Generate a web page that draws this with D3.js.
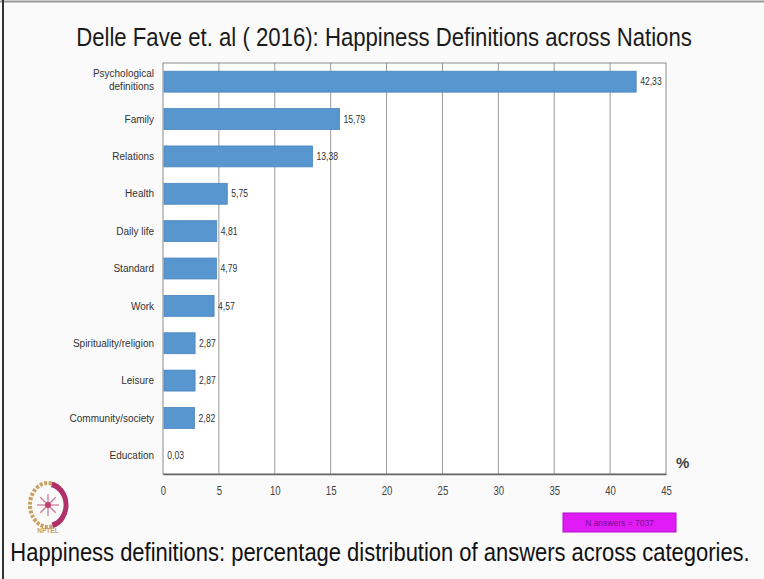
<!DOCTYPE html>
<html>
<head>
<meta charset="utf-8">
<script src="https://cdn.jsdelivr.net/npm/d3@7"></script>
<style>
  body { margin: 0; background: #fff; }
  svg { display: block; }
  text { font-family: "Liberation Sans", Arial, sans-serif; }
</style>
</head>
<body>
<script>
var w = 764;
var h = 579;

var categories = ["Psychological definitions", "Family", "Relations", "Health", "Daily life",
  "Standard", "Work", "Spirituality/religion", "Leisure", "Community/society", "Education"];
var values = [42.33, 15.79, 13.38, 5.75, 4.81, 4.79, 4.57, 2.87, 2.87, 2.82, 0.03];
var valueLabels = ["42,33", "15,79", "13,38", "5,75", "4,81", "4,79", "4,57", "2,87", "2,87", "2,82", "0,03"];
var xTicks = [0, 5, 10, 15, 20, 25, 30, 35, 40, 45];

var svg = d3.select("body").append("svg")
    .attr("width", w)
    .attr("height", h);

// squeeze a text horizontally (no narrow font installed)
function squeeze(sel, sx) {
  sel.each(function() {
    var t = d3.select(this);
    var px = +t.attr("x") || 0, py = +t.attr("y") || 0;
    t.attr("transform", "translate(" + px + "," + py + ") scale(" + sx + ",1) translate(" + (-px) + "," + (-py) + ")");
  });
}
// fit a centred text to a target width
function fitWidth(sel, target) {
  var len = sel.node().getComputedTextLength();
  squeeze(sel, target / len);
}

// slide background + frame
svg.append("rect").attr("width", w).attr("height", h).style("fill", "#fafafa");
svg.append("line").attr("x1", 0).attr("x2", w).attr("y1", 1.5).attr("y2", 1.5)
    .style("stroke", "#9a9a9a").style("stroke-width", 2);
svg.append("line").attr("x1", 3).attr("x2", 3).attr("y1", 0).attr("y2", h)
    .style("stroke", "#333").style("stroke-width", 2);

// title
var title = svg.append("text")
    .attr("x", 384).attr("y", 46)
    .attr("text-anchor", "middle")
    .style("font-size", "25px").style("fill", "#1a1a1a")
    .text("Delle Fave et. al ( 2016): Happiness Definitions across Nations");
fitWidth(title, 616);

var plot = {left: 163, right: 666, top: 63, bottom: 474};

var x = d3.scaleLinear().domain([0, 45]).range([plot.left, plot.right]);
var y = d3.scaleBand().domain(categories).range([plot.top, plot.bottom]).paddingInner(0.44).paddingOuter(0.22);

// plot area
svg.append("rect")
    .attr("x", plot.left).attr("y", plot.top)
    .attr("width", plot.right - plot.left).attr("height", plot.bottom - plot.top)
    .style("fill", "#fff").style("stroke", "#8a8a8a").style("stroke-width", 1);

// vertical grid
svg.selectAll(".grid")
    .data(xTicks.slice(1, -1))
    .enter().append("line")
    .attr("class", "grid")
    .attr("x1", function(d) { return x(d); })
    .attr("x2", function(d) { return x(d); })
    .attr("y1", plot.top).attr("y2", plot.bottom)
    .style("stroke", "#9a9a9a").style("stroke-width", 1);

// x axis
var xAxis = svg.append("g")
    .attr("transform", "translate(0," + plot.bottom + ")")
    .call(d3.axisBottom(x).tickValues(xTicks).tickSize(0).tickPadding(12));
xAxis.select(".domain").style("stroke", "#666").style("stroke-width", 1.5);
xAxis.selectAll("text")
    .style("font-size", "12px").style("fill", "#444")
    .style("font-family", "'Liberation Sans', Arial, sans-serif")
    .attr("transform", "scale(0.8,1)");

// y axis labels
var yAxis = svg.append("g")
    .attr("transform", "translate(" + plot.left + ",0)")
    .call(d3.axisLeft(y).tickSize(0).tickPadding(9));
yAxis.select(".domain").remove();
yAxis.selectAll("text")
    .style("font-size", "11.5px").style("fill", "#333")
    .each(function(d) {
      if (d === "Psychological definitions") {
        var t = d3.select(this);
        t.text(null);
        t.append("tspan").attr("x", -9).attr("dy", "-0.45em").text("Psychological");
        t.append("tspan").attr("x", -9).attr("dy", "1.15em").text("definitions");
      }
    });
yAxis.selectAll(".tick text").attr("transform", "translate(-9,0) scale(0.87,1) translate(9,0)");

// bars
svg.selectAll(".bar")
    .data(values)
    .enter().append("rect")
    .attr("class", "bar")
    .attr("x", x(0) + 1)
    .attr("y", function(d, i) { return y(categories[i]); })
    .attr("width", function(d) { return Math.max(0, x(d) - x(0) - 1); })
    .attr("height", y.bandwidth())
    .style("fill", "#5896d0")
    .style("stroke", "#4a84bd").style("stroke-width", 0.8);

// value labels
svg.selectAll(".val")
    .data(values)
    .enter().append("text")
    .attr("class", "val")
    .attr("x", function(d) { return x(d) + 4; })
    .attr("y", function(d, i) { return y(categories[i]) + y.bandwidth() / 2; })
    .attr("dy", "0.35em")
    .style("font-size", "10.5px").style("fill", "#333")
    .text(function(d, i) { return valueLabels[i]; })
    .call(squeeze, 0.82);

// % unit
svg.append("text")
    .attr("x", 676).attr("y", 468)
    .style("font-size", "15px").style("fill", "#444")
    .style("font-weight", "bold")
    .text("%");

// N answers box
svg.append("rect")
    .attr("x", 563).attr("y", 513).attr("width", 113).attr("height", 19)
    .style("fill", "#e01bf5").style("stroke", "#b010c8").style("stroke-width", 1);
svg.append("text")
    .attr("x", 619.5).attr("y", 526)
    .attr("text-anchor", "middle")
    .style("font-size", "8.5px").style("fill", "#7a1090")
    .text("N answers = 7037");

// logo (simple wheel)
var logo = svg.append("g").attr("transform", "translate(48,505)");
logo.append("ellipse").attr("rx", 18).attr("ry", 22).style("fill", "none")
    .style("stroke", "#c8a060").style("stroke-width", 4).style("stroke-dasharray", "3 1.5");
logo.append("path")
    .attr("transform", "scale(0.82,0.95)")
    .attr("d", d3.arc().innerRadius(19).outerRadius(25).startAngle(0.2).endAngle(2.9)())
    .style("fill", "#b0306a");
logo.selectAll(".spoke")
    .data(d3.range(8))
    .enter().append("line")
    .attr("x1", 0).attr("y1", 0)
    .attr("x2", function(d) { return 11 * Math.cos(d * Math.PI / 4); })
    .attr("y2", function(d) { return 11 * Math.sin(d * Math.PI / 4); })
    .style("stroke", "#d07090").style("stroke-width", 1.2);
logo.append("circle").attr("r", 3).style("fill", "#c04070");
svg.append("text")
    .attr("x", 48).attr("y", 533).attr("text-anchor", "middle")
    .style("font-size", "6.5px").style("font-weight", "bold").style("fill", "#c8a060")
    .text("NPTEL");

// caption
var caption = svg.append("text")
    .attr("x", 380).attr("y", 561)
    .attr("text-anchor", "middle")
    .style("font-size", "26px").style("fill", "#111")
    .text("Happiness definitions: percentage distribution of answers across categories.");
fitWidth(caption, 740);
</script>
</body>
</html>
